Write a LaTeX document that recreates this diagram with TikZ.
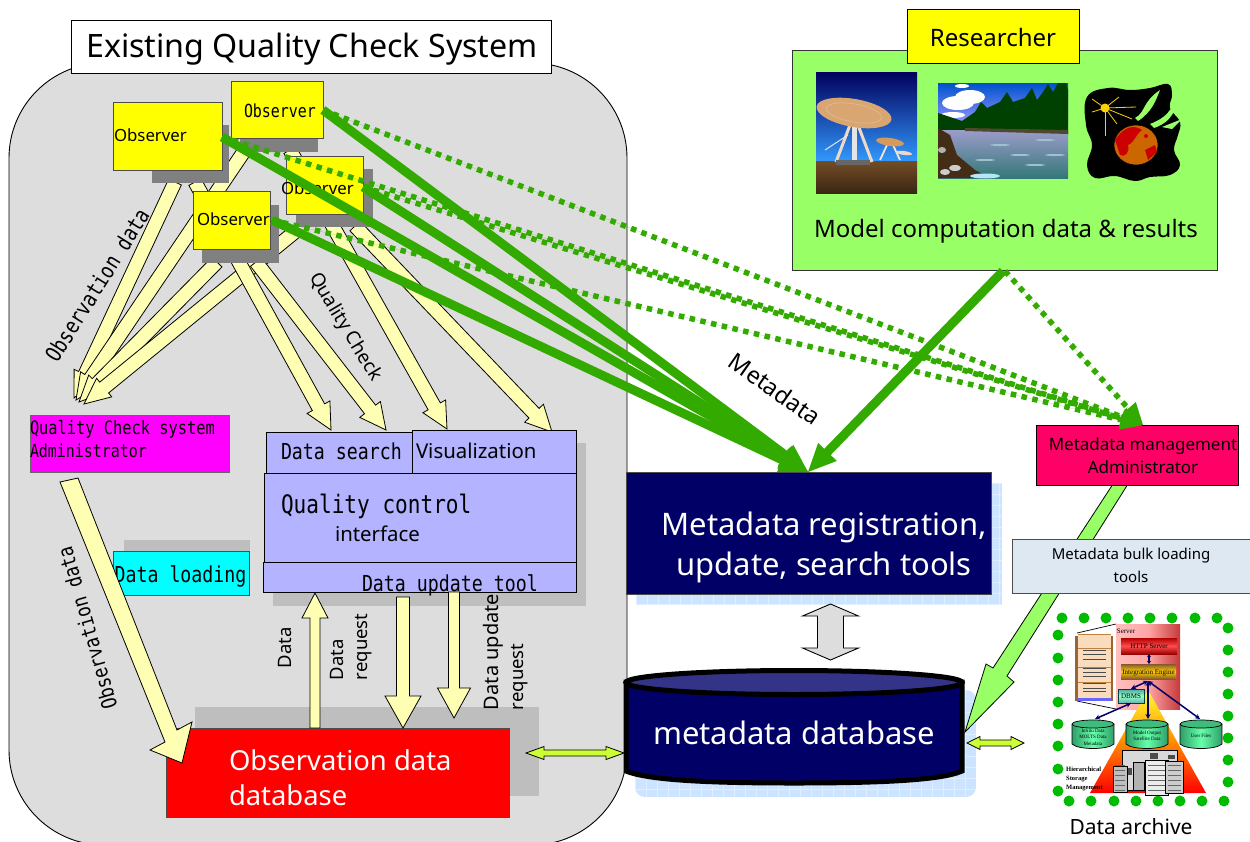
\documentclass[tikz,border=0pt]{standalone}
\usepackage{fontspec}
\setmainfont{Noto Sans}
\newfontfamily\gothic[FakeStretch=0.83]{DejaVu Sans Mono}
\newfontfamily\tinyserif{Liberation Serif}
\usetikzlibrary{calc,shapes.geometric,arrows.meta}
\definecolor{panelgray}{HTML}{DDDDDD}
\definecolor{softgray}{HTML}{BEBEBE}
\definecolor{darkshadow}{HTML}{808080}
\definecolor{paleyellow}{HTML}{FFFFB3}
\definecolor{obsyellow}{HTML}{FFFF00}
\definecolor{flowgreen}{HTML}{33AA00}
\definecolor{limebox}{HTML}{99FF66}
\definecolor{periwinkle}{HTML}{B3B3FF}
\definecolor{navybox}{HTML}{000066}
\definecolor{navylid}{HTML}{333388}
\definecolor{roseadmin}{HTML}{FF0066}
\definecolor{bulkpale}{HTML}{DDE8F3}
\definecolor{paleblue}{HTML}{CCE4FF}
\definecolor{gridblue}{HTML}{E0EFFF}
\definecolor{lime2}{HTML}{CCFF33}
\definecolor{dotgreen}{HTML}{00BB00}
\definecolor{cylgreen}{HTML}{2E9E68}
\definecolor{cyllight}{HTML}{66FFAA}
\definecolor{puremagenta}{HTML}{FF00FF}
\definecolor{purecyan}{HTML}{00FFFF}
\definecolor{purered}{HTML}{FF0000}
\newcommand\fs[1]{\fontsize{#1}{#1}\selectfont}
% \boxn{name}{x1}{y1}{x2}{y2}{style}
\newcommand\boxn[6]{\node[rectangle,inner sep=0pt,outer sep=0pt,minimum width={(#4-#2)*1pt},minimum height={(#5-#3)*1pt},#6] (#1) at ({(#2+#4)/2},{(#3+#5)/2}) {};}
% \blockarrow{style}{A}{B}{shaft half}{head half}{head len}
\newcommand\blockarrow[6]{%
 \coordinate (bac) at ($(#3)!#6pt!(#2)$);
 \draw[#1] ($(#2)!#4pt!90:(#3)$) -- ($(bac)!#4pt!90:(#3)$) -- ($(bac)!#5pt!90:(#3)$) -- (#3) -- ($(bac)!#5pt!-90:(#3)$) -- ($(bac)!#4pt!-90:(#3)$) -- ($(#2)!#4pt!-90:(#3)$) -- cycle;}
% \dblarrow{style}{A}{B}{shaft half}{head half}{head len}
\newcommand\dblarrow[6]{%
 \coordinate (bac) at ($(#3)!#6pt!(#2)$);
 \coordinate (bad) at ($(#2)!#6pt!(#3)$);
 \draw[#1] (#2) -- ($(bad)!#5pt!90:(#3)$) -- ($(bad)!#4pt!90:(#3)$) -- ($(bac)!#4pt!90:(#3)$) -- ($(bac)!#5pt!90:(#3)$) -- (#3) -- ($(bac)!#5pt!-90:(#3)$) -- ($(bac)!#4pt!-90:(#3)$) -- ($(bad)!#4pt!-90:(#3)$) -- ($(bad)!#5pt!-90:(#3)$) -- cycle;}
% small green cylinder \cylg{centre x}
\newcommand\cylg[1]{\begin{scope}[shift={(#1,0)}]
 \shade[left color=cylgreen,right color=cylgreen,middle color=cyllight] (-21,724) -- (-21,744) .. controls (-15,750) and (15,750) .. (21,744) -- (21,724) -- cycle;
 \draw[black,line width=0.7pt] (-21,724) -- (-21,744) .. controls (-15,750) and (15,750) .. (21,744) -- (21,724);
 \fill[cylgreen!70!cyllight,draw=black,line width=0.7pt] (0,724) ellipse (21pt and 4pt);
 \end{scope}}
\tikzset{
 x=1pt,y=-1pt,
 yarrow/.style={fill=paleyellow,draw=black,line width=0.8pt,line join=miter},
 garrow/.style={fill=flowgreen,draw=none},
 gdots/.style={draw=flowgreen,line width=5.5pt,dash pattern=on 5.5pt off 5.5pt},
 greyshadow/.style={fill=darkshadow,draw=none},
 softshadow/.style={fill=softgray,draw=none},
 obsbox/.style={fill=obsyellow,draw=black!70,line width=0.9pt},
 periwbox/.style={fill=periwinkle,draw=black,line width=0.9pt},
 lab/.style={inner sep=0pt,outer sep=0pt,text=black},
 gt/.style={lab},
 wt/.style={lab,text=white},
 dotb/.style={fill=dotgreen,draw=none},
 navyarrow/.style={draw=navybox,line width=1.5pt,{Stealth[length=5pt,width=5pt]}-{Stealth[length=5pt,width=5pt]}},
}
\begin{document}
\begin{tikzpicture}
\useasboundingbox (0,0) rectangle (1250,841);
\fill[white] (0,0) rectangle (1250,841);

% ---- big rounded panel
\draw[fill=panelgray,draw=black,line width=0.9pt,rounded corners=95pt] (9,63) rectangle (627,845);
\boxn{titlebox}{71}{20}{551}{73}{fill=white,draw=black,line width=0.9pt}
\node[lab,font=\fs{32.2}] (titletext) at (312,49) {Existing Quality Check System};

% ---- shadows of lower boxes
\boxn{qcshadow}{273}{443}{586}{606}{softshadow}
\boxn{dlshadow}{124}{540}{250}{560}{softshadow}
\boxn{dbshadow}{195}{707}{539}{796}{softshadow}

% ---- yellow arrows to administrator and tools
\coordinate (ya1) at (175,182); \coordinate (yt1) at (74,398);
\coordinate (ya2) at (245,150); \coordinate (yt2) at (76,400);
\coordinate (ya3) at (217,262); \coordinate (yt3) at (79,402);
\coordinate (ya4) at (296,231); \coordinate (yt4) at (84,404);
\coordinate (ya5) at (195,182); \coordinate (yt5) at (331,430);
\coordinate (ya6) at (256,262); \coordinate (yt6) at (386,430);
\coordinate (ya7) at (290,150); \coordinate (yt7) at (447,429);
\coordinate (ya8) at (355,226); \coordinate (yt8) at (552,432);
\blockarrow{yarrow}{ya1}{yt1}{7}{12}{26}
\blockarrow{yarrow}{ya2}{yt2}{7}{12}{26}
\blockarrow{yarrow}{ya3}{yt3}{7}{12}{26}
\blockarrow{yarrow}{ya4}{yt4}{7}{12}{26}
\blockarrow{yarrow}{ya5}{yt5}{7}{13}{26}
\blockarrow{yarrow}{ya6}{yt6}{7}{13}{26}
\blockarrow{yarrow}{ya7}{yt7}{7}{13}{26}
\blockarrow{yarrow}{ya8}{yt8}{7}{13}{26}

% ---- observers
\boxn{shobs2}{240}{100}{318}{152}{greyshadow}
\boxn{shobs1}{152}{125}{229}{183}{greyshadow}
\boxn{shobs3}{296}{169}{373}{227}{greyshadow}
\boxn{shobs4}{202}{205}{279}{263}{greyshadow}
\boxn{obs2}{231}{81}{323}{138}{obsbox}
\boxn{obs1}{113}{102}{222}{170}{obsbox}
\boxn{obs3}{286}{156}{363}{214}{obsbox}
\boxn{obs4}{193}{191}{270}{249}{obsbox}
\node[lab,anchor=west,font=\fs{16.8}] (obs1t) at (114,135) {Observer};
\node[gt,anchor=west,font=\gothic\fs{18}] (obs2t) at (244,111) {Observer};
\node[lab,anchor=west,font=\fs{16.8}] (obs3t) at (281,188) {Observer};
\node[lab,anchor=west,font=\fs{16.8}] (obs4t) at (197,219) {Observer};

% ---- labels on the left
\node[gt,font=\gothic\fs{22},rotate=58] (lobs1) at (97,285) {Observation data};
\node[gt,font=\gothic\fs{21},rotate=106] (lobs2) at (87,628) {Observation data};
\node[lab,font=\fs{19},rotate=-59] (lqc) at (345,327) {Quality Check};

% ---- administrator and arrow to the observation database
\boxn{qcadmin}{30}{415}{229}{472}{fill=puremagenta,draw=black!60,line width=0.9pt}
\node[gt,anchor=west,font=\gothic\fs{18.5}] (qca1) at (30,429) {Quality Check system};
\node[gt,anchor=west,font=\gothic\fs{18}] (qca2) at (30,451) {Administrator};
\coordinate (adm1) at (60,482); \coordinate (adm2) at (165,742); \coordinate (adm3) at (150,750); \coordinate (adm4) at (182,763); \coordinate (adm5) at (192,722); \coordinate (adm6) at (177,730); \coordinate (adm7) at (78,478);
\boxn{dataload}{113}{551}{249}{595}{fill=purecyan,draw=black!70,line width=0.9pt}
\node[gt,font=\gothic\fs{22}] (dlt) at (180.5,576) {Data loading};

% ---- quality control
\boxn{dsearch}{266}{432}{412}{473}{periwbox}
\boxn{visual}{412}{430}{576}{473}{periwbox}
\boxn{qcbox}{264}{473}{576}{562}{periwbox}
\boxn{updbox}{263}{562}{576}{592}{periwbox}
\node[gt,anchor=west,font=\gothic\fs{22}] (dst) at (281,451) {Data search};
\node[lab,anchor=west,font=\fs{20.4}] (vist) at (416,451) {Visualization};
\node[gt,anchor=west,font=\gothic\fs{25.4}] (qct) at (281,506) {Quality control};
\node[lab,anchor=west,font=\fs{20.4}] (ift) at (335,534) {interface};
\node[gt,anchor=west,font=\gothic\fs{22}] (upt) at (362,585) {Data update tool};

% ---- observation database
\boxn{obsdb}{166}{728}{509}{817}{fill=purered,draw=black!70,line width=0.9pt}
\draw[yarrow] (adm1) -- (adm2) -- (adm3) -- (adm4) -- (adm5) -- (adm6) -- (adm7) -- cycle;
\node[wt,anchor=west,font=\fs{27.4}] (odb1) at (229,760) {Observation data};
\node[wt,anchor=west,font=\fs{27.4}] (odb2) at (229,795) {database};
\coordinate (dupa) at (315,728); \coordinate (dupb) at (315,593);
\coordinate (rqa) at (403,597); \coordinate (rqb) at (403,728);
\coordinate (uqa) at (454,592); \coordinate (uqb) at (454,718);
\blockarrow{yarrow}{dupa}{dupb}{5}{13}{25}
\blockarrow{yarrow}{rqa}{rqb}{6.5}{18}{32}
\blockarrow{yarrow}{uqa}{uqb}{5.5}{16.5}{30}
\node[lab,anchor=west,rotate=90,font=\fs{18.5}] (ld) at (285,668) {Data};
\node[lab,anchor=west,rotate=90,font=\fs{18.5}] (lr1) at (337,680) {Data};
\node[lab,anchor=west,rotate=90,font=\fs{18.5}] (lr2) at (364,680) {request};
\node[lab,anchor=west,rotate=90,font=\fs{20}] (lu1) at (493,710) {Data update};
\node[lab,anchor=west,rotate=90,font=\fs{18.5}] (lu2) at (520,710) {request};

% ---- metadata registration
\begin{scope}
\clip (636,483) rectangle (1002,605);
\fill[paleblue] (636,483) rectangle (1002,605);
\foreach \gx in {0,11,...,374}{\draw[gridblue,line width=0.6pt] ({636+\gx},483) -- ({636+\gx},605);}
\foreach \gy in {0,11,...,132}{\draw[gridblue,line width=0.6pt] (636,{483+\gy}) -- (1002,{483+\gy});}
\end{scope}
\boxn{reg}{626}{472}{991}{594}{fill=navybox,draw=black!70,line width=0.6pt}
\node[wt,font=\fs{31}] (regt1) at (824,527) {Metadata registration,};
\node[wt,font=\fs{31}] (regt2) at (824,567) {update, search tools};

% ---- database
\begin{scope}
\clip[rounded corners=10pt] (635,690) rectangle (976,797);
\fill[paleblue] (635,690) rectangle (976,797);
\foreach \gx in {0,11,...,352}{\draw[gridblue,line width=0.6pt] ({635+\gx},690) -- ({635+\gx},797);}
\foreach \gy in {0,11,...,110}{\draw[gridblue,line width=0.6pt] (635,{690+\gy}) -- (976,{690+\gy});}
\end{scope}
\path[fill=navybox,draw=black,line width=5pt] (626,682) -- (626,771) .. controls (650,781) and (720,783) .. (794,783) .. controls (870,783) and (940,781) .. (962,771) -- (962,682) -- cycle;
\node[ellipse,inner sep=0pt,minimum width=336pt,minimum height=24pt,fill=navylid,draw=black,line width=5pt] (dblid) at (794,682.5) {};
\node[wt,font=\fs{31}] (dbt) at (794,733) {metadata database};
\coordinate (ud1) at (830.5,604); \coordinate (ud2) at (830.5,660);
\dblarrow{fill=panelgray,draw=black,line width=0.9pt}{ud1}{ud2}{13}{28}{12}

% ---- small double arrows
\coordinate (lm1) at (526,753); \coordinate (lm2) at (624,753);
\coordinate (lr1c) at (967,743); \coordinate (lr2c) at (1024,743);
\dblarrow{fill=lime2,draw=black,line width=0.8pt}{lm1}{lm2}{3}{6.5}{18}
\dblarrow{fill=lime2,draw=black,line width=0.8pt}{lr1c}{lr2c}{3}{6.5}{13}

% ---- bulk tools and admin
\coordinate (bk1) at (1113,484); \coordinate (bk2) at (993,668); \coordinate (bk3) at (986,664); \coordinate (bk4) at (965,732); \coordinate (bk5) at (1014,682); \coordinate (bk6) at (1007,676); \coordinate (bk7) at (1128,484);
\draw[fill=limebox,draw=black,line width=0.8pt] (bk1) -- (bk2) -- (bk3) -- (bk4) -- (bk5) -- (bk6) -- (bk7) -- cycle;
\boxn{bulk}{1012}{539}{1250}{593}{fill=bulkpale,draw=black!70,line width=0.9pt}
\node[lab,font=\fs{15}] (bulkt1) at (1131,556) {Metadata bulk loading};
\node[lab,font=\fs{15}] (bulkt2) at (1131,577) {tools};
\boxn{madmin}{1036}{425}{1238}{485}{fill=roseadmin,draw=black,line width=0.9pt}
\node[lab,font=\fs{17}] (madm1) at (1143,446) {Metadata management};
\node[lab,font=\fs{17}] (madm2) at (1143,467) {Administrator};

% ---- researcher panel
\boxn{respanel}{792}{50}{1217}{270}{fill=limebox,draw=black!80,line width=1pt}
\boxn{resbox}{907}{9}{1079}{63}{fill=obsyellow,draw=black,line width=1pt}
\node[lab,font=\fs{24}] (rest) at (993,37) {Researcher};
\node[lab,font=\fs{24}] (modelt) at (1006,231) {Model computation data \& results};

% telescope picture
\begin{scope}
\clip (816,72) rectangle (917,193);
\shade[top color=navybox!90!black,bottom color=blue!50!cyan!80!white] (816,72) rectangle (917,162);
\shade[top color=brown!60!black,bottom color=black!70!brown] (816,161) rectangle (917,193);
\draw[white!70!brown,line width=3pt] (850,125) -- (836,162);
\draw[white!70!brown,line width=3pt] (858,125) -- (872,162);
\draw[white!80!gray,line width=5pt] (854,122) -- (854,160);
\draw[white!80!gray,line width=1pt] (825,150) -- (848,135);
\fill[black!60] (836,160) rectangle (870,165);
\fill[brown!85!orange!70!white,rotate around={-10:(854,113)}] (854,113) ellipse (38pt and 14pt);
\draw[white!50!brown,line width=0.5pt,rotate around={-10:(854,113)}] (854,113) ellipse (28pt and 9pt);
\draw[white!80!brown,line width=1.8pt] (887,145) -- (880,160);
\draw[white!80!brown,line width=1.8pt] (893,145) -- (900,160);
\fill[brown!80!orange!80!white,rotate around={-8:(890,142)}] (890,142) ellipse (14pt and 4pt);
\fill[white!70!brown,rotate around={-8:(904,153)}] (904,153) ellipse (8pt and 2pt);
\end{scope}

% river picture
\begin{scope}
\clip (938,83) rectangle (1068,178);
\shade[top color=blue!60!cyan!80!black,bottom color=blue!40!white] (938,83) rectangle (1068,125);
\fill[white] (958,103) ellipse (16pt and 7pt);
\fill[white] (970,97) ellipse (15pt and 7pt);
\fill[white] (953,115) ellipse (12pt and 3pt);
\fill[white] (962,86) ellipse (7pt and 2pt);
\fill[black!75!green] (938,113) -- (962,121) -- (975,112) -- (981,102) -- (987,108) -- (1000,102) -- (1007,92) -- (1013,102) -- (1025,98) -- (1032,88) -- (1037,100) -- (1043,92) -- (1048,84) -- (1053,92) -- (1058,83) -- (1066,83) -- (1068,90) -- (1068,135) -- (938,135) -- cycle;
\shade[top color=gray!70!blue!60!white,bottom color=black!55!cyan!60!gray] (938,130) rectangle (1068,178);
\fill[olive!40!black] (965,128) -- (1068,130) -- (1068,134) -- (965,131) -- cycle;
\foreach \wx/\wy in {1000/145,1020/155,1045/140,985/160,1035/165,1055/155}{\fill[white!60!cyan!60!gray] (\wx,\wy) ellipse (10pt and 1pt);}
\fill[black!65!brown] (938,128) -- (950,135) -- (957,155) -- (975,170) -- (990,178) -- (938,178) -- cycle;
\fill[gray!60!white] (942,150) ellipse (4pt and 3pt);
\fill[gray!40!white] (955,168) ellipse (6pt and 3pt);
\fill[gray!40!white] (945,172) ellipse (5pt and 3pt);
\fill[white!70!cyan] (985,176) ellipse (15pt and 2.5pt);
\end{scope}

% earth picture
\fill[black] plot[smooth cycle,tension=0.7] coordinates {(1087,97) (1108,88) (1130,90) (1150,88) (1168,84) (1172,95) (1170,108) (1180,122) (1178,135) (1174,150) (1180,165) (1170,175) (1150,177) (1135,181) (1115,176) (1095,178) (1087,165) (1092,145) (1086,125)};
\fill[limebox] (1135,118) .. controls (1146,112) and (1142,102) .. (1160,90) .. controls (1156,100) and (1152,112) .. (1138,121) -- cycle;
\fill[limebox] (1150,124) .. controls (1165,118) and (1172,112) .. (1177,93) .. controls (1178,108) and (1172,122) .. (1154,128) -- cycle;
\fill[limebox] (1162,127) -- (1182,119) -- (1172,129) -- cycle;
\fill[yellow!70!orange] (1105,108) circle (4.5pt);
\foreach \ea/\eb in {1092/99,1119/97,1136/107,1132/119,1105/136,1117/124,1092/112}{
  \draw[yellow!70!orange,line width=0.8pt] (1105,108) -- (\ea,\eb);}
\fill[orange!80!black,draw=black,line width=0.5pt] (1136,145) ellipse (22pt and 20pt);
\fill[red!80!black] (1115,140) .. controls (1125,125) and (1135,125) .. (1142,130) .. controls (1135,135) and (1135,142) .. (1128,145) .. controls (1130,152) and (1125,158) .. (1120,155) -- cycle;
\fill[red!80!black] (1145,150) -- (1155,145) -- (1157,152) -- (1148,160) -- cycle;
\fill[red!80!black] (1146,136) circle (2pt);

% ---- solid and dotted metadata flows
\coordinate (gs1) at (323,110); \coordinate (gs2) at (222,137); \coordinate (gs3) at (363,187); \coordinate (gs4) at (272,220);
\coordinate (gsr) at (1003,271); \coordinate (gd) at (808,472);
\coordinate (gdr) at (1005,271); \coordinate (ga) at (1143,425);
\foreach \st in {gs1,gs2,gs3,gs4}{
  \draw[gdots] (\st) -- ($(ga)!14pt!(\st)$);}
\draw[gdots] (gdr) -- ($(ga)!14pt!(gdr)$);
\blockarrow{garrow}{gs1}{ga}{0}{10}{22}
\foreach \st in {gs2,gs3,gs4}{\blockarrow{garrow}{\st}{ga}{0}{10}{22}}
\blockarrow{garrow}{gdr}{ga}{0}{10}{22}
\foreach \st in {gs1,gs2,gs3,gs4}{
  \blockarrow{garrow}{\st}{gd}{4.5}{13}{28}}
\blockarrow{garrow}{gsr}{gd}{4.5}{13}{28}
\node[lab,font=\fs{23.5},rotate=-35] (metalab) at (775,389) {Metadata};

% ---- data archive picture
\foreach \dx in {1062,1084,1106,1128,1150,1172,1195,1217}{\fill[dotb] (\dx,618) circle (5.5pt);}
\foreach \dy in {628,650,672,694,716,738,760,782}{\fill[dotb] (1228,\dy) circle (5.5pt);}
\foreach \dx in {1069,1091,1114,1136,1158,1180,1202,1224}{\fill[dotb] (\dx,801) circle (5.5pt);}
\foreach \dy in {635,658,680,702,724,746,769,791}{\fill[dotb] (1058,\dy) circle (5.5pt);}
\shade[left color=red!25!white,right color=red!55!gray,middle color=red!35!white] (1116,624) rectangle (1180,709);
\node[inner sep=0pt,font=\tinyserif\fs{7}] (srvl) at (1126,631.5) {Server};
\shade[top color=red!70!black,bottom color=red!60!black,middle color=red!70!white] (1121,638) rectangle (1177,654);
\node[inner sep=0pt,font=\tinyserif\fs{7}] (httpt) at (1149,646.5) {HTTP Server};
\shade[top color=brown!70!black,bottom color=brown!70!black,middle color=yellow!60!orange] (1121,664) rectangle (1176,679);
\node[inner sep=0pt,font=\tinyserif\fs{7}] (intt) at (1148.5,672.5) {Integration Engine};
\draw[navybox,line width=1.3pt,{Stealth[length=3pt,width=4pt]}-{Stealth[length=3pt,width=4pt]}] (1149,654) -- (1149,664);
\draw[black,line width=0.7pt] (1077,633) -- (1116,624);
\draw[black,line width=0.7pt] (1077,701) -- (1116,709);
\fill[brown!80!black] (1075,636) rectangle (1113,701);
\fill[orange!20!white!90!brown] (1078,634) rectangle (1111,699);
\fill[blue!60!white] (1078,698) rectangle (1111,701);
\foreach \ly in {650,654,659,668,672,676,683,688,691}{\draw[black!70,line width=0.6pt] (1083,\ly) -- (1106,\ly);}
\foreach \ly in {634,648,667,682}{\draw[brown,line width=0.4pt] (1078,\ly) -- (1111,\ly);}
\begin{scope}
\clip (1090,793) -- (1148,690) -- (1206,793) -- cycle;
\shade[top color=yellow!80!white,bottom color=red,middle color=orange!90!yellow] (1085,690) rectangle (1210,793);
\end{scope}
\node[inner sep=0pt,minimum height=14pt,minimum width=26pt,rectangle,draw=teal!50!black,line width=0.4pt,top color=teal!70!white,bottom color=teal!60!white,middle color=cyllight!70!white,font=\tinyserif\fs{7}] (dbms) at (1131,696) {DBMS};
\cylg{1093}\cylg{1147}\cylg{1201}
\node[inner sep=0pt,align=center,font=\tinyserif\fs{5}] (cyt1) at (1093,737) {InSitu Data\\[1.5pt]MOLTS Data\\[1.5pt]Metadata};
\node[inner sep=0pt,align=center,font=\tinyserif\fs{5}] (cyt2) at (1147,736) {Model Output\\[1.5pt]Satellite Data};
\node[inner sep=0pt,font=\tinyserif\fs{5}] (cyt3) at (1201,736) {User Files};
\coordinate (hub) at (1148,681);
\coordinate (cyt1top) at (1095,719); \coordinate (cyt2top) at (1148,719); \coordinate (cyt3top) at (1200,719);
\draw[navyarrow] (dbms.south) -- (cyt1top);
\draw[navyarrow] (hub) -- (dbms.north);
\draw[navyarrow] (hub) -- (cyt2top);
\draw[navyarrow] (hub) -- (cyt3top);
% machines
\fill[gray!30!white,draw=black,line width=0.4pt] (1122,750) rectangle (1177,790);
\fill[gray!50!white,draw=black,line width=0.4pt] (1113,766) rectangle (1127,792);
\fill[gray!15!white,draw=black,line width=0.4pt] (1145,760) rectangle (1168,795);
\fill[gray!40!white,draw=black,line width=0.4pt] (1165,761) rectangle (1183,793);
\fill[gray!60!white,draw=black,line width=0.4pt] (1133,762) rectangle (1144,790);
\foreach \ly in {765,770,775,780,785,790}{\draw[black!60,line width=0.4pt] (1148,\ly) -- (1165,\ly);\draw[black!60,line width=0.4pt] (1168,\ly) -- (1181,\ly);\draw[black!60,line width=0.4pt] (1115,\ly) -- (1125,\ly);}
\fill[black!70] (1150,753) rectangle (1158,759);
\fill[black!70] (1168,755) rectangle (1175,759);
\fill[black!70] (1128,768) rectangle (1132,775);
\node[anchor=north west,inner sep=0pt,align=left,font=\tinyserif\bfseries\fs{6.5}] (hsm) at (1066,767) {Hierarchical\\[2.5pt]Storage\\[2.5pt]Management};
\node[lab,font=\fs{21}] (arch) at (1131,827) {Data archive};
\end{tikzpicture}
\end{document}
